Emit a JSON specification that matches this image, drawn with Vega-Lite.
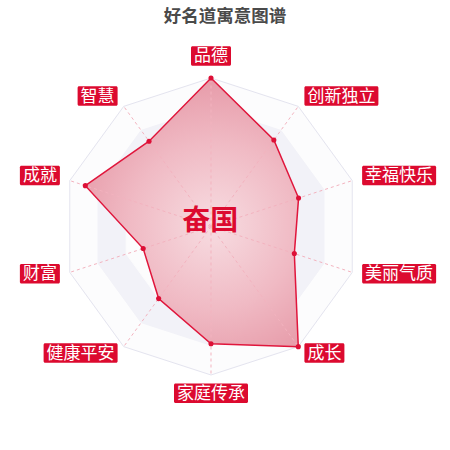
{
  "$schema": "https://vega.github.io/schema/vega-lite/v6.json",
  "width": 450,
  "height": 450,
  "padding": 0,
  "autosize": {"type": "none"},
  "background": "white",
  "config": {"view": {"stroke": null}},
  "title": {
    "text": "好名道寓意图谱",
    "frame": "group",
    "anchor": "middle",
    "offset": -25,
    "font": "Noto Sans CJK SC",
    "fontSize": 17.5,
    "fontWeight": "bold",
    "color": "#4a4a4a"
  },
  "datasets": {
    "dims": [
      {"dim": "品德", "idx": 0, "score": 100},
      {"dim": "创新独立", "idx": 1, "score": 72},
      {"dim": "幸福快乐", "idx": 2, "score": 62},
      {"dim": "美丽气质", "idx": 3, "score": 59},
      {"dim": "成长", "idx": 4, "score": 100},
      {"dim": "家庭传承", "idx": 5, "score": 79},
      {"dim": "健康平安", "idx": 6, "score": 60},
      {"dim": "财富", "idx": 7, "score": 48},
      {"dim": "成就", "idx": 8, "score": 89},
      {"dim": "智慧", "idx": 9, "score": 71}
    ],
    "rings": [
      {"level": 1.0, "ks": [0, 1, 2, 3, 4, 5, 6, 7, 8, 9]},
      {"level": 0.8, "ks": [0, 1, 2, 3, 4, 5, 6, 7, 8, 9]},
      {"level": 0.6, "ks": [0, 1, 2, 3, 4, 5, 6, 7, 8, 9]},
      {"level": 0.4, "ks": [0, 1, 2, 3, 4, 5, 6, 7, 8, 9]},
      {"level": 0.2, "ks": [0, 1, 2, 3, 4, 5, 6, 7, 8, 9]}
    ],
    "center": [{"name": "奋国"}]
  },
  "layer": [
    {
      "data": {"name": "rings"},
      "transform": [
        {"flatten": ["ks"], "as": ["k"]},
        {"calculate": "datum.level * sin(datum.k * PI / 5)", "as": "gx"},
        {"calculate": "datum.level * cos(datum.k * PI / 5)", "as": "gy"}
      ],
      "mark": {"type": "line", "interpolate": "linear-closed", "strokeWidth": 1},
      "encoding": {
        "x": {"field": "gx", "type": "quantitative", "scale": {"domain": [-1.4209, 1.6094], "nice": false, "zero": false}, "axis": null},
        "y": {"field": "gy", "type": "quantitative", "scale": {"domain": [-1.5051, 1.5253], "nice": false, "zero": false}, "axis": null},
        "detail": {"field": "level", "type": "ordinal"},
        "order": {"field": "k", "type": "quantitative"},
        "fill": {"field": "level", "type": "ordinal", "legend": null, "scale": {"domain": [1.0, 0.8, 0.6, 0.4, 0.2], "range": ["#fcfcfd", "#f2f2f8", "#fcfcfd", "#f2f2f8", "#fcfcfd"]}},
        "stroke": {"field": "level", "type": "ordinal", "legend": null, "scale": {"domain": [1.0, 0.8, 0.6, 0.4, 0.2], "range": ["#e4e4ef", "#f2f2f8", "#fcfcfd", "#f2f2f8", "#fcfcfd"]}}
      }
    },
    {
      "data": {"name": "dims"},
      "transform": [
        {"calculate": "datum.score / 100 * sin(datum.idx * PI / 5)", "as": "px"},
        {"calculate": "datum.score / 100 * cos(datum.idx * PI / 5)", "as": "py"}
      ],
      "mark": {
        "type": "line",
        "interpolate": "linear-closed",
        "stroke": "#e0163c",
        "strokeWidth": 1.5,
        "fill": {
          "gradient": "radial",
          "x1": 0.58, "y1": 0.55, "r1": 0,
          "x2": 0.58, "y2": 0.55, "r2": 0.62,
          "stops": [
            {"offset": 0, "color": "#f7dce1"},
            {"offset": 0.5, "color": "#f0bac4"},
            {"offset": 1, "color": "#e492a1"}
          ]
        }
      },
      "encoding": {
        "x": {"field": "px", "type": "quantitative"},
        "y": {"field": "py", "type": "quantitative"},
        "order": {"field": "idx", "type": "quantitative"}
      }
    },
    {
      "data": {"name": "dims"},
      "transform": [
        {"calculate": "0", "as": "o"},
        {"calculate": "sin(datum.idx * PI / 5)", "as": "sx"},
        {"calculate": "cos(datum.idx * PI / 5)", "as": "sy"}
      ],
      "mark": {"type": "rule", "stroke": "#f3b3bf", "strokeWidth": 1, "strokeDash": [3, 3]},
      "encoding": {
        "x": {"field": "o", "type": "quantitative"},
        "y": {"field": "o", "type": "quantitative"},
        "x2": {"field": "sx"},
        "y2": {"field": "sy"}
      }
    },
    {
      "data": {"name": "dims"},
      "transform": [
        {"calculate": "datum.score / 100 * sin(datum.idx * PI / 5)", "as": "px"},
        {"calculate": "datum.score / 100 * cos(datum.idx * PI / 5)", "as": "py"}
      ],
      "mark": {"type": "point", "filled": true, "color": "#dd0f36", "size": 26, "opacity": 1},
      "encoding": {
        "x": {"field": "px", "type": "quantitative"},
        "y": {"field": "py", "type": "quantitative"}
      }
    },
    {
      "data": {"name": "dims"},
      "transform": [
        {"calculate": "sin(datum.idx * PI / 5)", "as": "s"},
        {"calculate": "cos(datum.idx * PI / 5)", "as": "c"},
        {"calculate": "1.07 * datum.s", "as": "ax"},
        {"calculate": "1.07 * datum.c + 0.013", "as": "ay"},
        {"calculate": "(17 * length(datum.dim) + 6) / 148.5", "as": "w"},
        {"calculate": "19.5 / 148.5", "as": "h"},
        {"calculate": "datum.s > 0.05 ? datum.ax : (datum.s < -0.05 ? datum.ax - datum.w : datum.ax - datum.w / 2)", "as": "bx1"},
        {"calculate": "datum.bx1 + datum.w", "as": "bx2"},
        {"calculate": "datum.c > 0.95 ? datum.ay : (datum.c < -0.95 ? datum.ay - datum.h : datum.ay - datum.h / 2)", "as": "by1"},
        {"calculate": "datum.by1 + datum.h", "as": "by2"},
        {"calculate": "(datum.bx1 + datum.bx2) / 2", "as": "tx"},
        {"calculate": "(datum.by1 + datum.by2) / 2", "as": "ty"}
      ],
      "layer": [
        {
          "mark": {"type": "rect", "color": "#dc0a2f", "cornerRadius": 1.5},
          "encoding": {
            "x": {"field": "bx1", "type": "quantitative"},
            "x2": {"field": "bx2"},
            "y": {"field": "by1", "type": "quantitative"},
            "y2": {"field": "by2"}
          }
        },
        {
          "mark": {"type": "text", "color": "white", "font": "Noto Sans CJK SC", "fontSize": 17, "align": "center", "baseline": "middle", "dy": 0.5},
          "encoding": {
            "x": {"field": "tx", "type": "quantitative"},
            "y": {"field": "ty", "type": "quantitative"},
            "text": {"field": "dim"}
          }
        }
      ]
    },
    {
      "data": {"name": "center"},
      "transform": [
        {"calculate": "-0.005", "as": "cx"},
        {"calculate": "0.03", "as": "cy"}
      ],
      "mark": {"type": "text", "color": "#dc0a2f", "font": "Noto Sans CJK SC", "fontSize": 28, "fontWeight": "bold", "align": "center", "baseline": "middle"},
      "encoding": {
        "x": {"field": "cx", "type": "quantitative"},
        "y": {"field": "cy", "type": "quantitative"},
        "text": {"field": "name"}
      }
    }
  ]
}
